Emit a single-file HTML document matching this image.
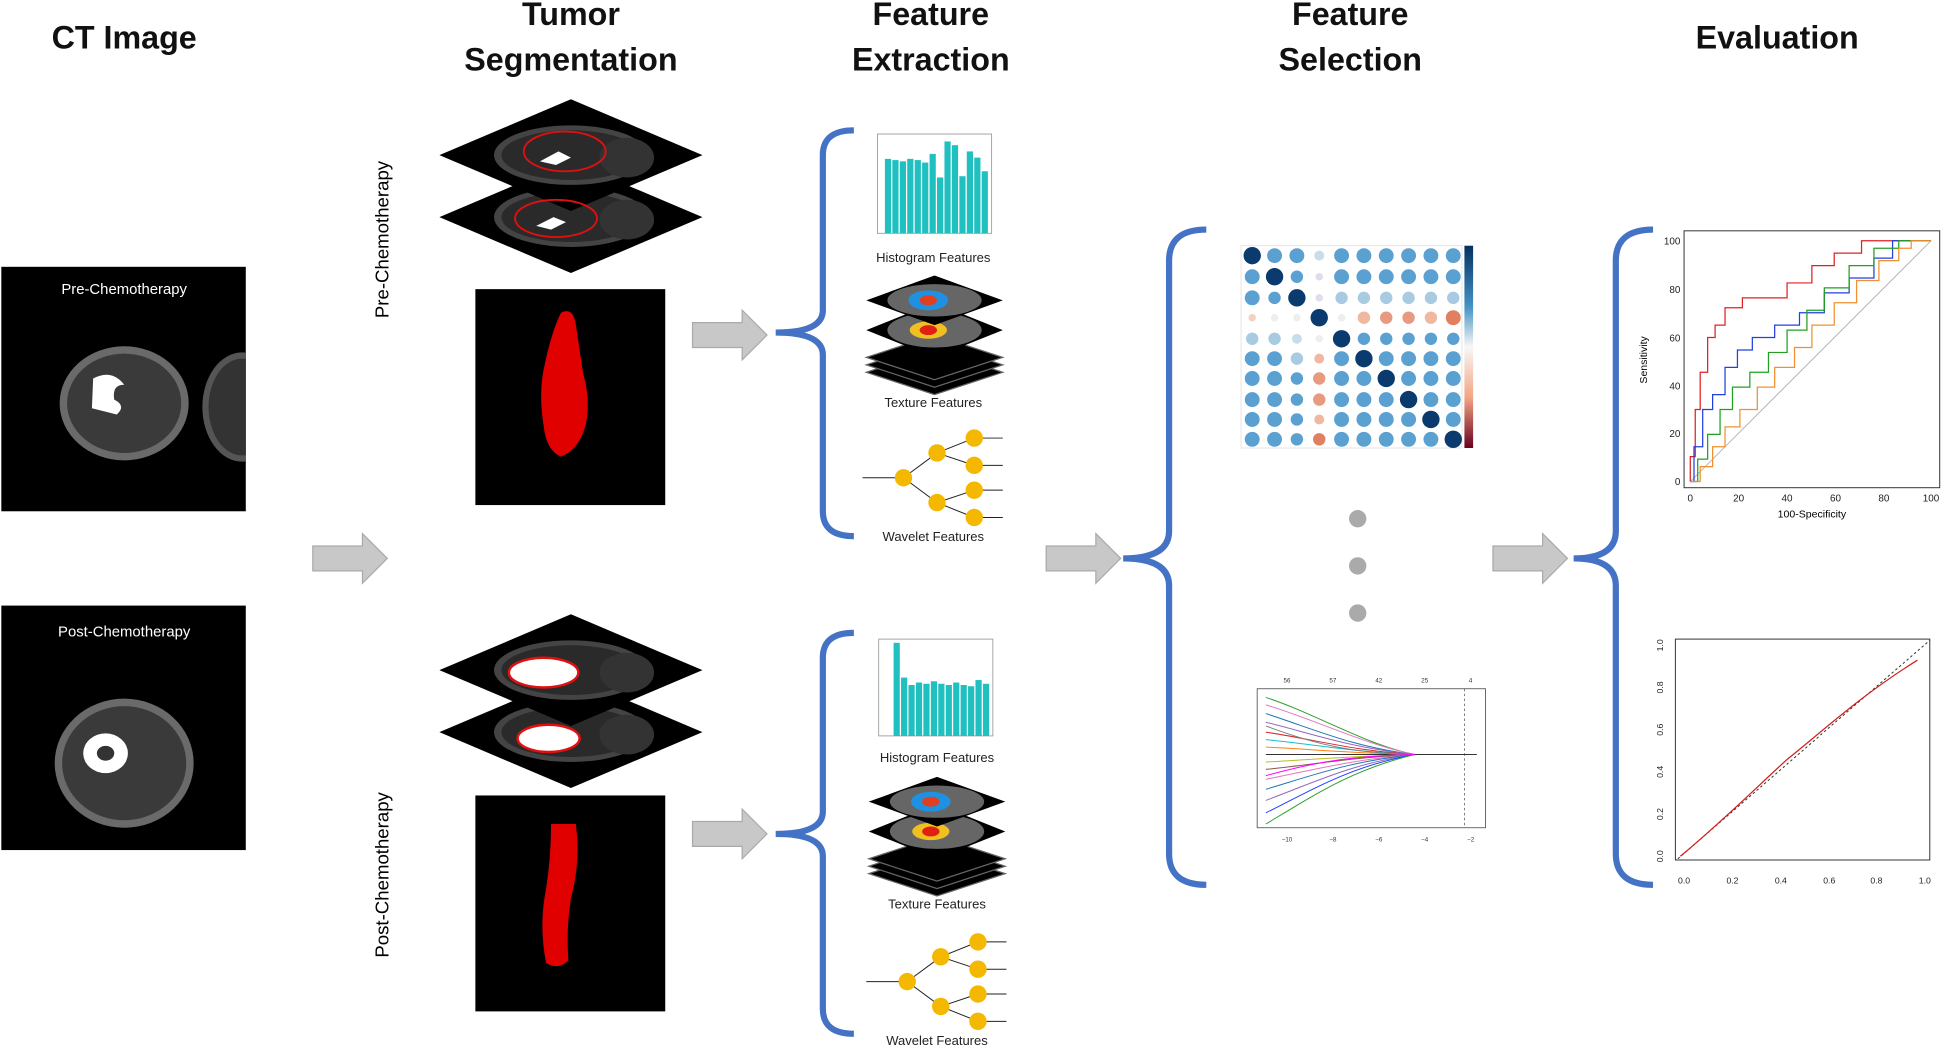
<!DOCTYPE html>
<html><head><meta charset="utf-8"><style>
html,body{margin:0;padding:0;background:#fff;}
svg{display:block;font-family:"Liberation Sans",sans-serif;}
.t{font-weight:bold;font-size:26px;text-anchor:middle;fill:#111;}
.l{font-size:10.5px;text-anchor:middle;fill:#222;}
</style></head><body>
<svg width="1946" height="1048" viewBox="0 0 1568 844.5" xmlns="http://www.w3.org/2000/svg">
<defs>
<clipPath id="c1"><rect x="1" y="215" width="197" height="197"/></clipPath>
<g id="arrow"><polygon points="0,-10 40,-10 40,-20 60,0 40,20 40,10 0,10" fill="#c8c8c8" stroke="#aaa" stroke-width="1"/></g>
<g id="slice"><polygon points="0,0 -106,-45 0,-90 106,-45" transform="translate(0,45)" fill="#000"/><ellipse cx="0" cy="0" rx="62" ry="24" fill="#444"/><ellipse cx="0" cy="0" rx="56" ry="20" fill="#2a2a2a"/><ellipse cx="45" cy="2" rx="22" ry="16" fill="#333"/></g>
<g id="tree" fill="#f5b800" stroke="#222" stroke-width="0.8">
<line x1="0" y1="38" x2="33" y2="38"/><line x1="33" y1="38" x2="60" y2="18"/><line x1="33" y1="38" x2="60" y2="58"/>
<line x1="60" y1="18" x2="90" y2="6"/><line x1="60" y1="18" x2="90" y2="28"/><line x1="60" y1="58" x2="90" y2="48"/><line x1="60" y1="58" x2="90" y2="70"/>
<line x1="90" y1="6" x2="113" y2="6"/><line x1="90" y1="28" x2="113" y2="28"/><line x1="90" y1="48" x2="113" y2="48"/><line x1="90" y1="70" x2="113" y2="70"/>
<circle cx="33" cy="38" r="7" stroke="none"/><circle cx="60" cy="18" r="7" stroke="none"/><circle cx="60" cy="58" r="7" stroke="none"/>
<circle cx="90" cy="6" r="7" stroke="none"/><circle cx="90" cy="28" r="7" stroke="none"/><circle cx="90" cy="48" r="7" stroke="none"/><circle cx="90" cy="70" r="7" stroke="none"/></g>
<g id="tex">
<polygon points="55,60 110,78 55,96 0,78" fill="#000" stroke="#666"/>
<polygon points="55,54 110,72 55,90 0,72" fill="#000" stroke="#666"/>
<polygon points="55,48 110,66 55,84 0,66" fill="#000" stroke="#666"/>
<polygon points="55,22 110,44 55,66 0,44" fill="#000"/><ellipse cx="55" cy="44" rx="38" ry="14" fill="#666"/><ellipse cx="50" cy="44" rx="15" ry="7" fill="#f0c020"/><ellipse cx="50" cy="44" rx="7" ry="4" fill="#e02010"/>
<polygon points="55,0 110,20 55,40 0,20" fill="#000"/><ellipse cx="55" cy="20" rx="38" ry="13" fill="#666"/><ellipse cx="50" cy="20" rx="16" ry="8" fill="#2090e0"/><ellipse cx="50" cy="20" rx="7" ry="4" fill="#e04020"/>
</g>
<linearGradient id="cb" x1="0" y1="0" x2="0" y2="1"><stop offset="0" stop-color="#053061"/><stop offset="0.3" stop-color="#4393c3"/><stop offset="0.5" stop-color="#f7f7f7"/><stop offset="0.75" stop-color="#f4a582"/><stop offset="1" stop-color="#67001f"/></linearGradient>
</defs>
<rect width="1568" height="845" fill="#fff"/>
<text class="t" x="100" y="39">CT Image</text>
<text class="t" x="460" y="20">Tumor</text><text class="t" x="460" y="57">Segmentation</text>
<text class="t" x="750" y="20">Feature</text><text class="t" x="750" y="57">Extraction</text>
<text class="t" x="1088" y="20">Feature</text><text class="t" x="1088" y="57">Selection</text>
<text class="t" x="1432" y="39">Evaluation</text>

<rect x="1" y="215" width="197" height="197" fill="#000"/>
<text x="100" y="237" fill="#fff" font-size="12" text-anchor="middle">Pre-Chemotherapy</text>
<g clip-path="url(#c1)">
<ellipse cx="100" cy="325" rx="52" ry="46" fill="#6a6a6a"/><ellipse cx="100" cy="325" rx="46" ry="40" fill="#3a3a3a"/>
<path d="M75,305 q15,-8 25,5 q-10,0 -8,12 q10,5 2,12 l-20,-5 z" fill="#fff"/>
<ellipse cx="195" cy="328" rx="32" ry="44" fill="#555"/><ellipse cx="195" cy="328" rx="27" ry="39" fill="#333"/>
</g>
<rect x="1" y="488" width="197" height="197" fill="#000"/>
<text x="100" y="513" fill="#fff" font-size="12" text-anchor="middle">Post-Chemotherapy</text>
<ellipse cx="100" cy="615" rx="56" ry="52" fill="#6a6a6a"/><ellipse cx="100" cy="615" rx="50" ry="46" fill="#3a3a3a"/>
<ellipse cx="85" cy="607" rx="18" ry="16" fill="#fff"/><ellipse cx="85" cy="607" rx="7" ry="6" fill="#333"/>

<use href="#arrow" x="252" y="450"/>
<text transform="translate(313,193) rotate(-90)" font-size="15" text-anchor="middle">Pre-Chemotherapy</text>
<text transform="translate(313,705) rotate(-90)" font-size="15" text-anchor="middle">Post-Chemotherapy</text>

<use href="#slice" x="460" y="175"/>
<use href="#slice" x="460" y="125"/>
<ellipse cx="455" cy="122" rx="33" ry="16" fill="none" stroke="#e01010" stroke-width="1.5"/><path d="M435,130 l15,-8 10,5 -12,6z" fill="#fff"/>
<ellipse cx="448" cy="176" rx="33" ry="15" fill="none" stroke="#e01010" stroke-width="1.5"/><path d="M432,182 l14,-7 10,4 -12,6z" fill="#fff"/>
<rect x="383" y="233" width="153" height="174" fill="#000"/>
<path d="M452,252 q10,-5 12,10 l6,40 q6,20 2,40 q-5,20 -20,26 q-12,-5 -14,-25 q-4,-25 0,-45 q6,-30 14,-46z" fill="#e00000"/>
<use href="#slice" x="460" y="590"/>
<use href="#slice" x="460" y="540"/>
<ellipse cx="438" cy="542" rx="28" ry="12" fill="#fff" stroke="#e01010" stroke-width="2"/>
<ellipse cx="442" cy="595" rx="25" ry="11" fill="#fff" stroke="#e01010" stroke-width="2"/>
<rect x="383" y="641" width="153" height="174" fill="#000"/>
<path d="M444,664 l20,0 q4,30 -4,60 q-4,25 -2,50 q-8,8 -18,2 q-6,-30 0,-60 q4,-25 4,-52z" fill="#e00000"/>

<use href="#arrow" x="558" y="270"/>
<use href="#arrow" x="558" y="672"/>

<g fill="none" stroke="#4472c4" stroke-width="5">
<path d="M688,105 q-25,0 -25,20 v125 q0,18 -38,18 q38,0 38,18 v126 q0,20 25,20"/>
<path d="M688,510 q-25,0 -25,20 v124 q0,18 -38,18 q38,0 38,18 v123 q0,20 25,20"/>
<path d="M972,185 q-30,0 -30,25 v218 q0,22 -37,22 q37,0 37,22 v216 q0,25 30,25"/>
<path d="M1332,185 q-30,0 -30,25 v218 q0,22 -34,22 q34,0 34,22 v216 q0,25 30,25"/>
</g>

<g>
<rect x="707" y="108" width="92" height="80" fill="none" stroke="#999" stroke-width="0.7"/>
<g fill="#20c0c0">
<rect x="713" y="128" width="5" height="60"/><rect x="719" y="129" width="5" height="59"/><rect x="725" y="130" width="5" height="58"/><rect x="731" y="128" width="5" height="60"/><rect x="737" y="129" width="5" height="59"/><rect x="743" y="131" width="5" height="57"/><rect x="749" y="124" width="5" height="64"/><rect x="755" y="143" width="5" height="45"/><rect x="761" y="114" width="5" height="74"/><rect x="767" y="117" width="5" height="71"/><rect x="773" y="142" width="5" height="46"/><rect x="779" y="122" width="5" height="66"/><rect x="785" y="127" width="5" height="61"/><rect x="791" y="138" width="5" height="50"/>
</g>
<text class="l" x="752" y="211">Histogram Features</text>
<rect x="708" y="515" width="92" height="78" fill="none" stroke="#999" stroke-width="0.7"/>
<g fill="#20c0c0">
<rect x="720" y="518" width="5" height="75"/><rect x="726" y="546" width="5" height="47"/><rect x="732" y="552" width="5" height="41"/><rect x="738" y="550" width="5" height="43"/><rect x="744" y="551" width="5" height="42"/><rect x="750" y="549" width="5" height="44"/><rect x="756" y="551" width="5" height="42"/><rect x="762" y="552" width="5" height="41"/><rect x="768" y="550" width="5" height="43"/><rect x="774" y="552" width="5" height="41"/><rect x="780" y="553" width="5" height="40"/><rect x="786" y="548" width="5" height="45"/><rect x="792" y="551" width="5" height="42"/>
</g>
<text class="l" x="755" y="614">Histogram Features</text>
</g>
<use href="#tex" x="698" y="222"/>
<text class="l" x="752" y="328">Texture Features</text>
<use href="#tex" x="700" y="626"/>
<text class="l" x="755" y="732">Texture Features</text>
<use href="#tree" x="695" y="347"/>
<text class="l" x="752" y="436">Wavelet Features</text>
<use href="#tree" x="698" y="753"/>
<text class="l" x="755" y="842">Wavelet Features</text>

<use href="#arrow" x="843" y="450"/>
<use href="#arrow" x="1203" y="450"/>

<rect x="1000" y="198" width="178" height="163" fill="none" stroke="#ddd" stroke-width="0.6"/>
<rect x="1180" y="198" width="7" height="163" fill="url(#cb)"/>
<g>
<g fill="#5aa0d0">
<circle cx="1009" cy="206" r="7" fill="#0b3a6e"/><circle cx="1027" cy="206" r="6"/><circle cx="1045" cy="206" r="6"/><circle cx="1063" cy="206" r="4" fill="#c8dcea"/><circle cx="1081" cy="206" r="6"/><circle cx="1099" cy="206" r="6"/><circle cx="1117" cy="206" r="6"/><circle cx="1135" cy="206" r="6"/><circle cx="1153" cy="206" r="6"/><circle cx="1171" cy="206" r="6"/>
<circle cx="1009" cy="223" r="6"/><circle cx="1027" cy="223" r="7" fill="#0b3a6e"/><circle cx="1045" cy="223" r="5"/><circle cx="1063" cy="223" r="3" fill="#dde"/><circle cx="1081" cy="223" r="6"/><circle cx="1099" cy="223" r="6"/><circle cx="1117" cy="223" r="6"/><circle cx="1135" cy="223" r="6"/><circle cx="1153" cy="223" r="6"/><circle cx="1171" cy="223" r="6"/>
<circle cx="1009" cy="240" r="6"/><circle cx="1027" cy="240" r="5"/><circle cx="1045" cy="240" r="7" fill="#0b3a6e"/><circle cx="1063" cy="240" r="3" fill="#dde"/><circle cx="1081" cy="240" r="5" fill="#a8cbe2"/><circle cx="1099" cy="240" r="5" fill="#a8cbe2"/><circle cx="1117" cy="240" r="5" fill="#a8cbe2"/><circle cx="1135" cy="240" r="5" fill="#a8cbe2"/><circle cx="1153" cy="240" r="5" fill="#a8cbe2"/><circle cx="1171" cy="240" r="5" fill="#a8cbe2"/>
<circle cx="1009" cy="256" r="3" fill="#f3d0c0"/><circle cx="1027" cy="256" r="3" fill="#eee"/><circle cx="1045" cy="256" r="3" fill="#eee"/><circle cx="1063" cy="256" r="7" fill="#0b3a6e"/><circle cx="1081" cy="256" r="3" fill="#eee"/><circle cx="1099" cy="256" r="5" fill="#f0b8a0"/><circle cx="1117" cy="256" r="5" fill="#e89a80"/><circle cx="1135" cy="256" r="5" fill="#e89a80"/><circle cx="1153" cy="256" r="5" fill="#f0b8a0"/><circle cx="1171" cy="256" r="6" fill="#e08060"/>
<circle cx="1009" cy="273" r="5" fill="#a8cbe2"/><circle cx="1027" cy="273" r="5" fill="#a8cbe2"/><circle cx="1045" cy="273" r="4" fill="#c8dcea"/><circle cx="1063" cy="273" r="3" fill="#eee"/><circle cx="1081" cy="273" r="7" fill="#0b3a6e"/><circle cx="1099" cy="273" r="5"/><circle cx="1117" cy="273" r="5"/><circle cx="1135" cy="273" r="5"/><circle cx="1153" cy="273" r="5"/><circle cx="1171" cy="273" r="5"/>
<circle cx="1009" cy="289" r="6"/><circle cx="1027" cy="289" r="6"/><circle cx="1045" cy="289" r="5" fill="#a8cbe2"/><circle cx="1063" cy="289" r="4" fill="#f0b8a0"/><circle cx="1081" cy="289" r="6"/><circle cx="1099" cy="289" r="7" fill="#0b3a6e"/><circle cx="1117" cy="289" r="6"/><circle cx="1135" cy="289" r="6"/><circle cx="1153" cy="289" r="6"/><circle cx="1171" cy="289" r="6"/>
<circle cx="1009" cy="305" r="6"/><circle cx="1027" cy="305" r="6"/><circle cx="1045" cy="305" r="5"/><circle cx="1063" cy="305" r="5" fill="#e89a80"/><circle cx="1081" cy="305" r="6"/><circle cx="1099" cy="305" r="6"/><circle cx="1117" cy="305" r="7" fill="#0b3a6e"/><circle cx="1135" cy="305" r="6"/><circle cx="1153" cy="305" r="6"/><circle cx="1171" cy="305" r="6"/>
<circle cx="1009" cy="322" r="6"/><circle cx="1027" cy="322" r="6"/><circle cx="1045" cy="322" r="5"/><circle cx="1063" cy="322" r="5" fill="#e89a80"/><circle cx="1081" cy="322" r="6"/><circle cx="1099" cy="322" r="6"/><circle cx="1117" cy="322" r="6"/><circle cx="1135" cy="322" r="7" fill="#0b3a6e"/><circle cx="1153" cy="322" r="6"/><circle cx="1171" cy="322" r="6"/>
<circle cx="1009" cy="338" r="6"/><circle cx="1027" cy="338" r="6"/><circle cx="1045" cy="338" r="5"/><circle cx="1063" cy="338" r="4" fill="#f0b8a0"/><circle cx="1081" cy="338" r="6"/><circle cx="1099" cy="338" r="6"/><circle cx="1117" cy="338" r="6"/><circle cx="1135" cy="338" r="6"/><circle cx="1153" cy="338" r="7" fill="#0b3a6e"/><circle cx="1171" cy="338" r="6"/>
<circle cx="1009" cy="354" r="6"/><circle cx="1027" cy="354" r="6"/><circle cx="1045" cy="354" r="5"/><circle cx="1063" cy="354" r="5" fill="#e08060"/><circle cx="1081" cy="354" r="6"/><circle cx="1099" cy="354" r="6"/><circle cx="1117" cy="354" r="6"/><circle cx="1135" cy="354" r="6"/><circle cx="1153" cy="354" r="6"/><circle cx="1171" cy="354" r="7" fill="#0b3a6e"/>
</g>
</g>
<g fill="#aaa"><circle cx="1094" cy="418" r="7"/><circle cx="1094" cy="456" r="7"/><circle cx="1094" cy="494" r="7"/></g>

<g>
<rect x="1013" y="555" width="184" height="112" fill="none" stroke="#555" stroke-width="0.7"/>
<line x1="1180" y1="555" x2="1180" y2="667" stroke="#555" stroke-dasharray="2,2" stroke-width="0.6"/>
<g font-size="5" fill="#333" text-anchor="middle"><text x="1037" y="550">56</text><text x="1074" y="550">57</text><text x="1111" y="550">42</text><text x="1148" y="550">25</text><text x="1185" y="550">4</text>
<text x="1037" y="678">−10</text><text x="1074" y="678">−8</text><text x="1111" y="678">−6</text><text x="1148" y="678">−4</text><text x="1185" y="678">−2</text></g>
<g fill="none" stroke-width="0.8">
<path d="M1020,562 C1060,575 1100,600 1140,608" stroke="#2ca02c"/>
<path d="M1020,568 C1060,580 1100,600 1140,608" stroke="#e377c2"/>
<path d="M1020,575 C1060,588 1090,602 1140,608" stroke="#1f77b4"/>
<path d="M1020,582 C1060,592 1090,603 1140,608" stroke="#9467bd"/>
<path d="M1020,590 C1060,596 1090,605 1140,608" stroke="#d62728"/>
<path d="M1020,596 C1060,600 1090,606 1140,608" stroke="#17becf"/>
<path d="M1020,602 C1060,604 1090,607 1140,608" stroke="#ff7f0e"/>
<path d="M1020,608 L1190,608" stroke="#333"/>
<path d="M1020,614 C1060,612 1090,609 1140,608" stroke="#bcbd22"/>
<path d="M1020,620 C1060,616 1090,610 1140,608" stroke="#8c564b"/>
<path d="M1020,628 C1060,620 1090,612 1140,608" stroke="#e377c2"/>
<path d="M1020,636 C1060,624 1090,613 1140,608" stroke="#1f77b4"/>
<path d="M1020,645 C1060,630 1090,615 1140,608" stroke="#9467bd"/>
<path d="M1020,655 C1060,635 1090,617 1140,608" stroke="#1f3fff"/>
<path d="M1020,664 C1060,640 1090,620 1140,608" stroke="#2ca02c"/>
<path d="M1020,585 C1060,600 1090,607 1140,608" stroke="#7f7f7f"/>
<path d="M1020,625 C1060,614 1090,609 1140,608" stroke="#ff00ff"/>
</g>
</g>

<g>
<rect x="1357" y="186" width="206" height="207" fill="none" stroke="#333" stroke-width="0.8"/>
<line x1="1362" y1="388" x2="1556" y2="194" stroke="#aaa" stroke-width="0.7"/>
<g font-size="8" fill="#222" text-anchor="end"><text x="1354" y="197">100</text><text x="1354" y="236">80</text><text x="1354" y="275">60</text><text x="1354" y="314">40</text><text x="1354" y="352">20</text><text x="1354" y="391">0</text></g>
<g font-size="8" fill="#222" text-anchor="middle"><text x="1362" y="404">0</text><text x="1401" y="404">20</text><text x="1440" y="404">40</text><text x="1479" y="404">60</text><text x="1518" y="404">80</text><text x="1556" y="404">100</text></g>
<text x="1460" y="417" font-size="8.5" text-anchor="middle">100-Specificity</text>
<text transform="translate(1327,290) rotate(-90)" font-size="8.5" text-anchor="middle">Sensitivity</text>
<g fill="none" stroke-width="1">
<polyline stroke="#e02020" points="1362,388 1362,368 1366,368 1366,330 1370,330 1370,300 1376,300 1376,272 1382,272 1382,262 1390,262 1390,248 1404,248 1404,240 1440,240 1440,228 1460,228 1460,214 1478,214 1478,204 1500,204 1500,194 1556,194"/>
<polyline stroke="#2040e0" points="1362,388 1365,388 1365,360 1372,360 1372,330 1380,330 1380,318 1390,318 1390,296 1400,296 1400,282 1412,282 1412,272 1430,272 1430,262 1450,262 1450,252 1470,252 1470,236 1490,236 1490,224 1510,224 1510,208 1525,208 1525,194 1556,194"/>
<polyline stroke="#20a020" points="1362,388 1368,388 1368,370 1376,370 1376,350 1386,350 1386,330 1396,330 1396,312 1410,312 1410,300 1425,300 1425,284 1440,284 1440,266 1456,266 1456,250 1470,250 1470,232 1490,232 1490,214 1510,214 1510,200 1530,200 1530,194 1556,194"/>
<polyline stroke="#f09030" points="1362,388 1370,388 1370,376 1380,376 1380,360 1390,360 1390,344 1402,344 1402,330 1416,330 1416,312 1430,312 1430,296 1446,296 1446,280 1460,280 1460,262 1478,262 1478,244 1496,244 1496,226 1514,226 1514,210 1530,210 1530,200 1540,200 1540,194 1556,194"/>
</g>
</g>

<g>
<rect x="1350" y="515" width="205" height="178" fill="none" stroke="#333" stroke-width="0.8"/>
<g font-size="7" fill="#222" text-anchor="middle">
<text x="1357" y="712">0.0</text><text x="1396" y="712">0.2</text><text x="1435" y="712">0.4</text><text x="1474" y="712">0.6</text><text x="1512" y="712">0.8</text><text x="1551" y="712">1.0</text>
<text transform="translate(1340,690) rotate(-90)">0.0</text><text transform="translate(1340,656) rotate(-90)">0.2</text><text transform="translate(1340,622) rotate(-90)">0.4</text><text transform="translate(1340,588) rotate(-90)">0.6</text><text transform="translate(1340,554) rotate(-90)">0.8</text><text transform="translate(1340,520) rotate(-90)">1.0</text>
</g>
<line x1="1352" y1="692" x2="1555" y2="516" stroke="#333" stroke-width="0.8" stroke-dasharray="2,2"/>
<path d="M1354,690 C1390,660 1420,630 1440,612 C1470,588 1500,560 1545,532" fill="none" stroke="#d02020" stroke-width="1"/>
</g>
</svg>
</body></html>
